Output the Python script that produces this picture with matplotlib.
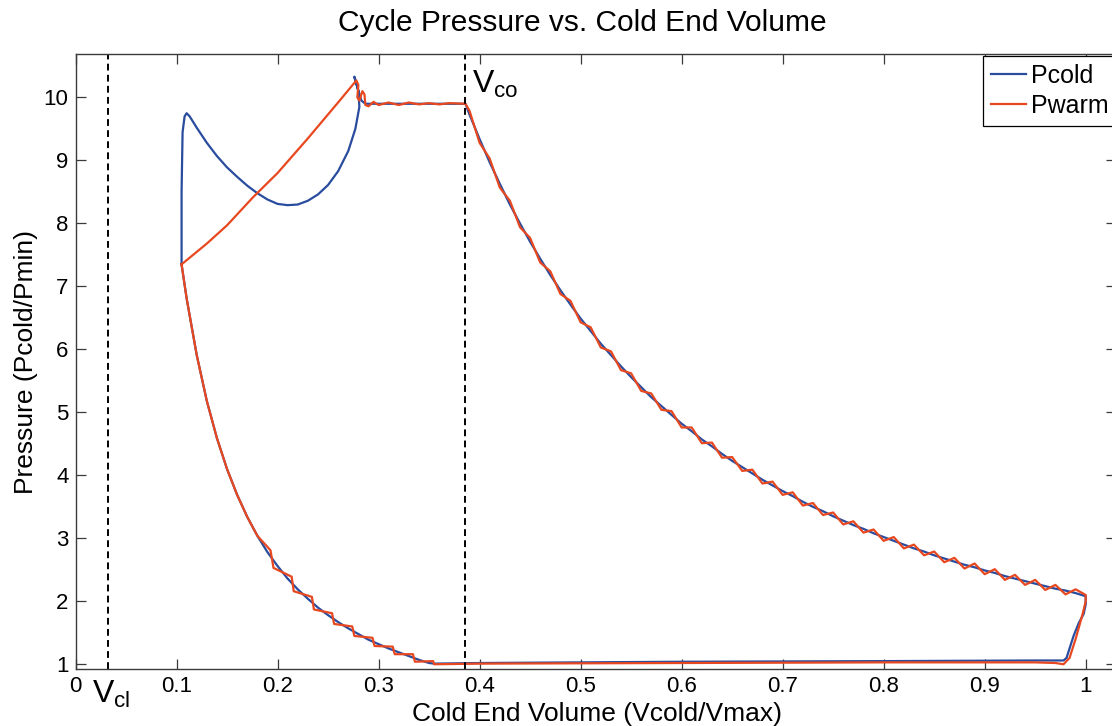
import matplotlib

matplotlib.use("Agg")

import matplotlib.pyplot as plt

# Pcold trace (cold end volume / Vmax, pressure / Pmin)
# top-left hump and plateau
PCOLD_TOP_V = [
    0.105, 0.105, 0.106, 0.108, 0.110, 0.113, 0.12, 0.13, 0.14, 0.15, 0.16, 0.17,
    0.18, 0.19, 0.20, 0.21, 0.22, 0.23, 0.24, 0.25, 0.26, 0.27, 0.277, 0.281,
    0.280, 0.276, 0.283, 0.287, 0.30, 0.385,
]
PCOLD_TOP_P = [
    7.35, 8.50, 9.45, 9.70, 9.75, 9.70, 9.52, 9.28, 9.07, 8.89, 8.74, 8.60,
    8.48, 8.38, 8.31, 8.29, 8.30, 8.36, 8.46, 8.61, 8.83, 9.15, 9.50, 9.85,
    10.10, 10.33, 9.95, 9.90, 9.90, 9.90,
]
# expansion branch (V_co -> Vmax)
EXP_V = [
    0.386, 0.39, 0.40, 0.41, 0.42, 0.43, 0.44, 0.45, 0.46, 0.47, 0.48, 0.49, 0.50,
    0.51, 0.52, 0.53, 0.54, 0.55, 0.56, 0.57, 0.58, 0.59, 0.60, 0.61, 0.62, 0.63,
    0.64, 0.65, 0.66, 0.67, 0.68, 0.69, 0.70, 0.71, 0.72, 0.73, 0.74, 0.75, 0.76,
    0.77, 0.78, 0.79, 0.80, 0.81, 0.82, 0.83, 0.84, 0.85, 0.86, 0.87, 0.88, 0.89,
    0.90, 0.91, 0.92, 0.93, 0.94, 0.95, 0.96, 0.97, 0.98, 0.99, 1.00,
]
PCOLD_EXP_P = [
    9.90, 9.73, 9.34, 8.97, 8.63, 8.30, 8.00, 7.71, 7.44, 7.18, 6.94, 6.71, 6.49,
    6.29, 6.09, 5.91, 5.73, 5.56, 5.40, 5.24, 5.10, 4.96, 4.82, 4.70, 4.57, 4.46,
    4.34, 4.23, 4.13, 4.03, 3.93, 3.84, 3.75, 3.67, 3.58, 3.50, 3.43, 3.35, 3.28,
    3.21, 3.15, 3.08, 3.02, 2.96, 2.90, 2.84, 2.79, 2.73, 2.68, 2.63, 2.58, 2.54,
    2.49, 2.45, 2.40, 2.36, 2.32, 2.28, 2.24, 2.20, 2.17, 2.13, 2.08,
]
PWARM_EXP_P = [
    9.90, 9.79, 9.28, 9.03, 8.57, 8.36, 7.94, 7.77, 7.38, 7.24, 6.88, 6.77, 6.43,
    6.35, 6.03, 5.97, 5.67, 5.62, 5.34, 5.30, 5.04, 5.02, 4.76, 4.76, 4.51, 4.52,
    4.28, 4.29, 4.07, 4.09, 3.87, 3.90, 3.69, 3.73, 3.52, 3.56, 3.37, 3.41, 3.22,
    3.27, 3.09, 3.14, 2.96, 3.02, 2.84, 2.90, 2.73, 2.79, 2.62, 2.69, 2.52, 2.60,
    2.43, 2.51, 2.34, 2.42, 2.26, 2.34, 2.18, 2.26, 2.11, 2.19, 2.10,
]
# right drop and bottom line
PCOLD_LOW_V = [1.0, 0.998, 0.993, 0.988, 0.984, 0.981, 0.978, 0.95, 0.80, 0.60, 0.40, 0.355]
PCOLD_LOW_P = [1.95, 1.80, 1.65, 1.45, 1.25, 1.10, 1.06, 1.06, 1.05, 1.04, 1.02, 1.01]
PWARM_LOW_V = [1.0, 0.997, 0.990, 0.984, 0.978, 0.97, 0.95, 0.80, 0.60, 0.40, 0.355]
PWARM_LOW_P = [2.00, 1.80, 1.40, 1.10, 1.00, 1.02, 1.03, 1.03, 1.02, 1.01, 1.00]
# compression branch (bottom -> V_cl side)
PCOLD_CMP_V = [
    0.35, 0.34, 0.33, 0.32, 0.31, 0.30, 0.29, 0.28, 0.27, 0.26, 0.25, 0.24, 0.23,
    0.22, 0.21, 0.20, 0.19, 0.18, 0.17, 0.16, 0.15, 0.14, 0.13, 0.12, 0.11, 0.105,
]
PCOLD_CMP_P = [
    1.02, 1.07, 1.13, 1.19, 1.25, 1.32, 1.39, 1.48, 1.57, 1.67, 1.78, 1.90, 2.04,
    2.19, 2.36, 2.56, 2.78, 3.04, 3.34, 3.69, 4.10, 4.59, 5.18, 5.91, 6.81, 7.35,
]
PWARM_CMP_V = [
    0.354, 0.336, 0.334, 0.316, 0.314, 0.296, 0.294, 0.276, 0.274, 0.256, 0.254,
    0.236, 0.234, 0.216, 0.214, 0.196, 0.193, 0.18, 0.17, 0.16, 0.15, 0.14, 0.13,
    0.12, 0.11, 0.105,
]
PWARM_CMP_P = [
    1.05, 1.04, 1.16, 1.16, 1.28, 1.29, 1.42, 1.45, 1.60, 1.64, 1.81, 1.87, 2.07,
    2.16, 2.39, 2.53, 2.81, 3.04, 3.34, 3.69, 4.10, 4.59, 5.18, 5.91, 6.81, 7.35,
]
# Pwarm top-left straight rise and ringing into the plateau
PWARM_TOP_V = [
    0.105, 0.13, 0.15, 0.176, 0.20, 0.23, 0.262, 0.278,
    0.280, 0.279, 0.281, 0.284, 0.286, 0.287, 0.29, 0.295, 0.30, 0.31, 0.32,
    0.33, 0.34, 0.35, 0.36, 0.37, 0.385,
]
PWARM_TOP_P = [
    7.35, 7.68, 7.97, 8.42, 8.80, 9.35, 9.96, 10.27,
    10.20, 10.00, 9.95, 10.10, 10.05, 9.88, 9.86, 9.93, 9.88, 9.92, 9.88,
    9.92, 9.89, 9.91, 9.89, 9.91, 9.90,
]

V_CL = 0.032
V_CO = 0.386
X_TICKS = [0, 0.1, 0.2, 0.3, 0.4, 0.5, 0.6, 0.7, 0.8, 0.9, 1]
X_TICK_LABELS = ["0", "0.1", "0.2", "0.3", "0.4", "0.5", "0.6", "0.7", "0.8", "0.9", "1"]
Y_TICKS = [1, 2, 3, 4, 5, 6, 7, 8, 9, 10]

BLUE = "#2a4c9e"
RED = "#e8481f"
AXIS_GRAY = "#3a3a3a"

plt.rcParams["font.family"] = ["Liberation Sans", "DejaVu Sans"]
plt.rcParams["mathtext.fontset"] = "custom"
plt.rcParams["mathtext.rm"] = "Liberation Sans"

pcold_v = PCOLD_TOP_V + EXP_V + PCOLD_LOW_V + PCOLD_CMP_V
pcold_p = PCOLD_TOP_P + PCOLD_EXP_P + PCOLD_LOW_P + PCOLD_CMP_P
pwarm_v = PWARM_TOP_V + EXP_V + PWARM_LOW_V + PWARM_CMP_V
pwarm_p = PWARM_TOP_P + PWARM_EXP_P + PWARM_LOW_P + PWARM_CMP_P

fig = plt.figure(figsize=(11.12, 7.26), dpi=100)
ax = fig.add_axes([0.0679, 0.0781, 0.9357, 0.8475])

ax.plot(pcold_v, pcold_p, color=BLUE, linewidth=1.6, label="Pcold")
ax.plot(pwarm_v, pwarm_p, color=RED, linewidth=1.6, label="Pwarm")

ax.axvline(V_CL, color="black", linestyle=(0, (3.5, 2.2)), linewidth=1.4)
ax.axvline(V_CO, color="black", linestyle=(0, (3.5, 2.2)), linewidth=1.4)

ax.set_xlim(0, 1.03)
ax.set_ylim(0.92, 10.69)
ax.set_xticks(X_TICKS)
ax.set_xticklabels(X_TICK_LABELS)
ax.set_yticks(Y_TICKS)
ax.tick_params(axis="both", direction="in", length=7.5, width=0.9, color=AXIS_GRAY,
               labelsize=16, top=True, right=True, pad=5)
for spine in ax.spines.values():
    spine.set_color(AXIS_GRAY)
    spine.set_linewidth(1.0)

ax.set_xlabel("Cold End Volume (Vcold/Vmax)", fontsize=19)
ax.xaxis.set_label_coords(0.501, -0.073)
ax.xaxis.label.set_va("center")
ax.set_ylabel("Pressure (Pcold/Pmin)", fontsize=19)
ax.yaxis.set_label_coords(-0.048, 0.5)
ax.yaxis.label.set_va("center")

fig.text(0.524, 0.968, "Cycle Pressure vs. Cold End Volume", fontsize=21.5,
         ha="center", va="center")

ax.text(0.392, 10.07, r"$\mathregular{V_{co}}$", fontsize=23, ha="left", va="baseline")
ax.text(0.016, 0.386, r"$\mathregular{V_{cl}}$", fontsize=23, ha="left", va="baseline",
        clip_on=False)

leg = ax.legend(loc="upper right", bbox_to_anchor=(1.0, 0.996), fontsize=18,
                frameon=True, fancybox=False, framealpha=1, edgecolor="black",
                handlelength=1.4, handletextpad=0.2, borderpad=0.3,
                labelspacing=0.25, borderaxespad=0.0)
leg.get_frame().set_linewidth(0.9)

fig.savefig("out.png", dpi=100)
